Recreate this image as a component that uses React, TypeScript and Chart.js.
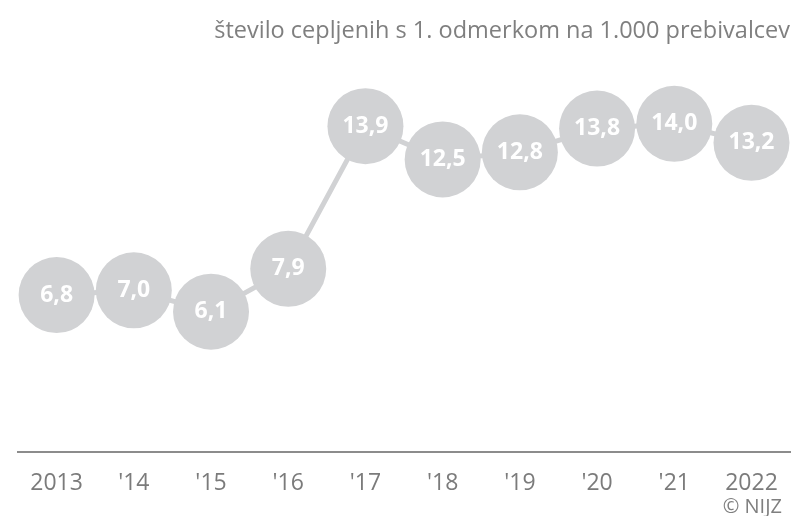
import React, { useEffect, useRef } from "react";
import { Chart, registerables } from "chart.js";

Chart.register(...registerables);

const tickLabels = ["2013", "'14", "'15", "'16", "'17", "'18", "'19", "'20", "'21", "2022"];
const values = [6.8, 7.0, 6.1, 7.9, 13.9, 12.5, 12.8, 13.8, 14.0, 13.2];
const titleText = "število cepljenih s 1. odmerkom na 1.000 prebivalcev";
const sourceText = "© NIJZ";

const FONT = "'Open Sans', sans-serif";
const CIRCLE = "#d1d2d4";

const textPlugin = {
  id: "textPlugin",
  afterDatasetsDraw(chart: any) {
    const ctx = chart.ctx;
    const meta = chart.getDatasetMeta(0);
    ctx.save();
    ctx.fillStyle = "#ffffff";
    ctx.font = `bold 23px ${FONT}`;
    ctx.textAlign = "center";
    ctx.textBaseline = "middle";
    meta.data.forEach((pt: any, i: number) => {
      const txt = values[i].toFixed(1).replace(".", ",");
      ctx.fillText(txt, pt.x, pt.y);
    });
    ctx.restore();
  },
  afterDraw(chart: any) {
    const ctx = chart.ctx;
    ctx.save();
    ctx.fillStyle = "#7f7f7f";
    ctx.font = `23.5px ${FONT}`;
    ctx.textAlign = "right";
    ctx.textBaseline = "middle";
    ctx.fillText(titleText, 790, 31);
    ctx.font = `20px ${FONT}`;
    ctx.fillText(sourceText, 782, 507);
    ctx.restore();
  },
};

export default function App() {
  const ref = useRef<HTMLCanvasElement | null>(null);
  useEffect(() => {
    document.body.style.margin = "0";
    if (!ref.current) return;
    const chart = new Chart(ref.current, {
      type: "line",
      data: {
        labels: tickLabels,
        datasets: [
          {
            data: values,
            borderColor: CIRCLE,
            borderWidth: 5,
            pointRadius: 38,
            pointHoverRadius: 38,
            pointBackgroundColor: CIRCLE,
            pointBorderWidth: 0,
            tension: 0,
            clip: false,
          },
        ],
      },
      options: {
        animation: false,
        responsive: false,
        events: [],
        layout: { autoPadding: false, padding: { left: 18, right: 4, top: 100, bottom: 0 } },
        plugins: {
          legend: { display: false },
          tooltip: { enabled: false },
          title: { display: false },
        },
        scales: {
          x: {
            offset: true,
            grid: { display: false, drawTicks: false },
            border: { display: true, color: "#8c8c8c", width: 2 },
            ticks: {
              color: "#7b7b7b",
              font: { family: FONT, size: 23 },
              padding: 18,
              maxRotation: 0,
              autoSkip: false,
            },
            afterFit: (scale: any) => {
              scale.height = 64;
            },
          },
          y: { display: false, min: 0.2, max: 15 },
        },
      },
      plugins: [textPlugin],
    });
    return () => chart.destroy();
  }, []);
  return <canvas ref={ref} width={796} height={516} style={{ display: "block" }} />;
}
